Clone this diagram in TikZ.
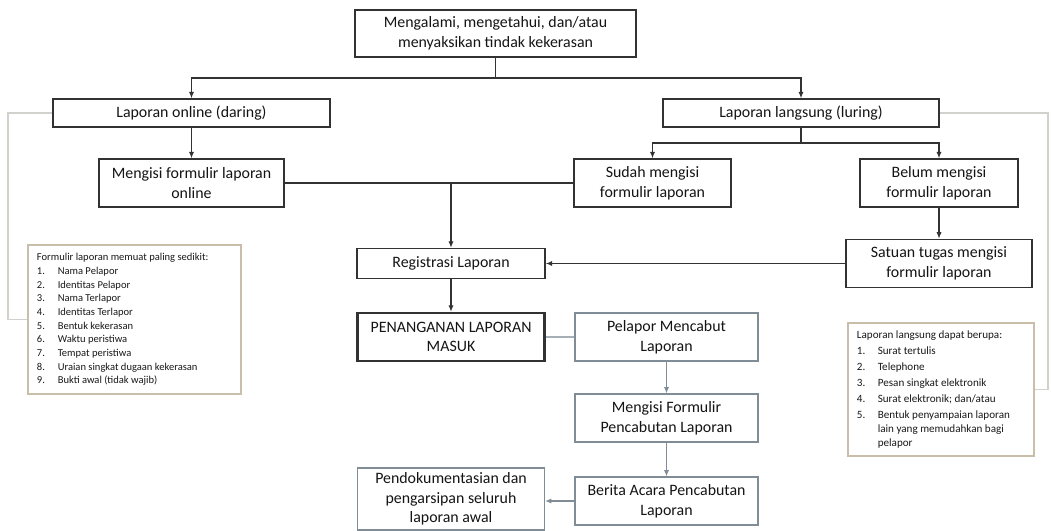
\documentclass[tikz,border=0pt]{standalone}
\usepackage{fontspec}
\setmainfont{Carlito}
\usetikzlibrary{arrows.meta,shadows}

\definecolor{boxline}{RGB}{50,50,50}
\definecolor{softline}{RGB}{128,140,150}
\definecolor{tanline}{RGB}{200,190,170}
\definecolor{guideline}{RGB}{210,210,205}

% one numbered line of a list, hanging indent
\newcommand{\litem}[2]{\par\hangindent=0.52cm\hangafter=1\noindent\makebox[0.52cm][l]{#1}#2}

\tikzset{
  box/.style={draw=boxline,line width=1pt,align=center,inner sep=0pt,
    font=\fontsize{11.3}{13.9}\selectfont,text=black!92},
  thickbox/.style={box,line width=1.8pt},
  softbox/.style={box,draw=softline,line width=0.8pt},
  listbox/.style={draw=tanline,line width=0.9pt,fill=white,align=left,
    inner sep=0pt,text=black!90,
    drop shadow={opacity=0.12,shadow xshift=1pt,shadow yshift=-1pt}},
  arr/.style={draw=boxline,line width=0.8pt,-{Latex[length=1.6mm,width=1.3mm]}},
  softarr/.style={arr,draw=softline},
  guide/.style={draw=guideline,line width=0.9pt}
}

\begin{document}
\begin{tikzpicture}[x=0.025cm,y=-0.025cm]
\useasboundingbox (0,0) rectangle (1051,531);

% top
\node[thickbox,minimum width=7.025cm,minimum height=1.175cm] (top) at (495.5,33.5)
  {Mengalami, mengetahui, dan/atau\\menyaksikan tindak kekerasan};

% two kinds of report
\node[box,minimum width=6.925cm,minimum height=0.7cm] (online) at (191.5,113) {Laporan online (daring)};
\node[box,minimum width=6.9cm,minimum height=0.7cm] (langsung) at (801,113) {Laporan langsung (luring)};

\node[box,minimum width=4.625cm,minimum height=1.2cm] (mengisi) at (191.5,183) {Mengisi formulir laporan\\online};
\node[box,minimum width=3.925cm,minimum height=1.2cm] (sudah) at (652.5,183) {Sudah mengisi\\formulir laporan};
\node[box,minimum width=3.95cm,minimum height=1.2cm] (belum) at (939,183) {Belum mengisi\\formulir laporan};
\node[box,line width=1.2pt,minimum width=4.65cm,minimum height=1.2cm] (satuan) at (939,263.5) {Satuan tugas mengisi\\formulir laporan};

\node[box,minimum width=4.7cm,minimum height=0.75cm] (registrasi) at (451,263.5) {Registrasi Laporan};
\node[thickbox,minimum width=4.675cm,minimum height=1.2cm] (penanganan) at (451,337) {PENANGANAN LAPORAN\\MASUK};

% withdrawal
\node[softbox,minimum width=4.575cm,minimum height=1.2cm] (pelapor) at (666.5,337) {Pelapor Mencabut\\Laporan};
\node[softbox,minimum width=4.575cm,minimum height=1.2cm] (formcabut) at (666.5,418) {Mengisi Formulir\\Pencabutan Laporan};
\node[softbox,minimum width=4.575cm,minimum height=1.2cm] (berita) at (666.5,501) {Berita Acara Pencabutan\\Laporan};
\node[softbox,minimum width=4.675cm,minimum height=1.55cm] (arsip) at (451,499) {Pendokumentasian dan\\pengarsipan seluruh\\laporan awal};

% notes
\node[listbox,minimum width=5.325cm,minimum height=3.725cm] (notaonline) at (134.5,319.5)
  {\begin{minipage}{4.875cm}\fontsize{7.5}{9.7}\selectfont\raggedright
  Formulir laporan memuat paling sedikit:
  \litem{1.}{Nama Pelapor}
  \litem{2.}{Identitas Pelapor}
  \litem{3.}{Nama Terlapor}
  \litem{4.}{Identitas Terlapor}
  \litem{5.}{Bentuk kekerasan}
  \litem{6.}{Waktu peristiwa}
  \litem{7.}{Tempat peristiwa}
  \litem{8.}{Uraian singkat dugaan kekerasan}
  \litem{9.}{Bukti awal (tidak wajib)}
  \end{minipage}};
\node[listbox,minimum width=4.65cm,minimum height=3.325cm] (notaluring) at (941,389.5)
  {\begin{minipage}{4.2cm}\fontsize{7.9}{9.9}\selectfont\raggedright\parskip=1.5pt
  Laporan langsung dapat berupa:
  \litem{1.}{Surat tertulis}
  \litem{2.}{Telephone}
  \litem{3.}{Pesan singkat elektronik}
  \litem{4.}{Surat elektronik; dan/atau}
  \litem{5.}{Bentuk penyampaian laporan lain yang memudahkan bagi pelapor}
  \end{minipage}};

% connectors
\coordinate (split) at (495.5,78);
\draw[boxline,line width=0.8pt] (top.south) -- (split);
\draw[arr] (split) -| (online.north);
\draw[arr] (split) -| (langsung.north);
\draw[arr] (online) -- (mengisi);

\coordinate (split2) at (801,143);
\draw[boxline,line width=0.8pt] (langsung.south) -- (split2);
\draw[arr] (split2) -| (sudah.north);
\draw[arr] (split2) -| (belum.north);
\draw[arr] (belum) -- (satuan);

\draw[boxline,line width=0.8pt] (mengisi.east) -- (sudah.west);
\draw[arr] (registrasi.north |- mengisi.east) -- (registrasi.north);
\draw[arr] (satuan.west) -- (registrasi.east);
\draw[arr] (registrasi) -- (penanganan);

\draw[softline!70,line width=0.8pt] (penanganan.east) -- (pelapor.west);
\draw[softarr] (pelapor) -- (formcabut);
\draw[softarr] (formcabut) -- (berita);
\draw[softarr] (berita.west) -- (berita.west -| arsip.east);

% light guide lines to the notes
\coordinate (gl) at (8,113);
\coordinate (gr) at (1048,113);
\draw[guide] (online.west) -- (gl) |- (notaonline.west);
\draw[guide] (langsung.east) -- (gr) |- (notaluring.east);
\end{tikzpicture}
\end{document}
